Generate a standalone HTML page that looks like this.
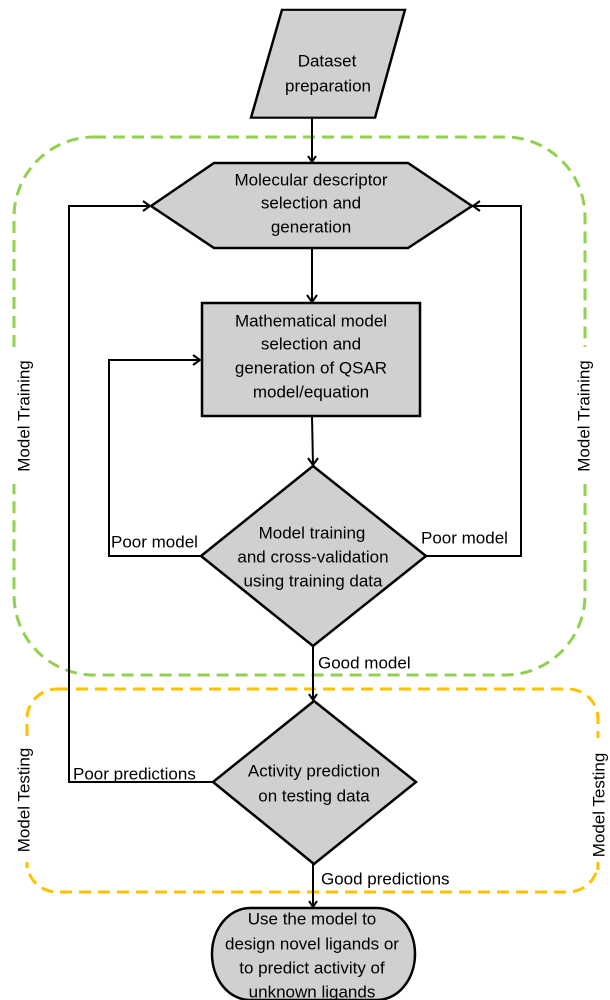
<!DOCTYPE html>
<html><head><meta charset="utf-8"><style>html,body{margin:0;padding:0;background:#fff}svg{display:block}</style></head>
<body>
<svg width="610" height="1000" viewBox="0 0 610 1000" xmlns="http://www.w3.org/2000/svg" font-family="Liberation Sans, sans-serif" font-size="17">
<!-- dashed groups -->
<path d="M94 137 H505 A80 80 0 0 1 585 217 V347 M585 484 V595 A80 80 0 0 1 505 675 H94 A80 80 0 0 1 14 595 V484 M14 347 V217 A80 80 0 0 1 94 137" fill="none" stroke="#92d050" stroke-width="3" stroke-dasharray="12,7"/>
<path d="M57 689 H568 A30 30 0 0 1 598 719 V738 M598 870 V862 A30 30 0 0 1 568 892 H57 A30 30 0 0 1 27 862 V868 M27 736 V719 A30 30 0 0 1 57 689" fill="none" stroke="#ffc000" stroke-width="3" stroke-dasharray="12,7"/>
<text transform="translate(24,416) rotate(-90)" text-anchor="middle" dominant-baseline="central">Model Training</text>
<text transform="translate(584,416) rotate(-90)" text-anchor="middle" dominant-baseline="central">Model Training</text>
<text transform="translate(24,800) rotate(-90)" text-anchor="middle" dominant-baseline="central">Model Testing</text>
<text transform="translate(599,805) rotate(-90)" text-anchor="middle" dominant-baseline="central">Model Testing</text>
<!-- connectors -->
<g fill="none" stroke="#000" stroke-width="2">
<path d="M312 116 V162 M308 156 L312 162 L316 156"/>
<path d="M312 248 V302 M307 295 L312 302 L317 295"/>
<path d="M312 416 L313 465 M308 458 L313 465 L318 458"/>
<path d="M313 646 V700 M309 694 L313 700 L317 694"/>
<path d="M313 864 V907 M309 901 L313 907 L317 901"/>
<path d="M201 556 H109 V360 H200 M193 355 L200 360 L193 365"/>
<path d="M426 556 H521 V206 H473 M480 201 L473 206 L480 211"/>
<path d="M213 782 H69 V206 H150 M143 201 L150 206 L143 211"/>
</g>
<!-- shapes -->
<g fill="#d0d0d0" stroke="#000" stroke-width="2.5">
<polygon points="282,10 405,10 375,137 251,137" transform="translate(0,-0) scale(1,0.85) translate(0,1.5)"/>
<polygon points="151,206 214,163 408,163 472,206 408,248 214,248"/>
<rect x="202" y="303" width="218" height="113"/>
<polygon points="313,466 426,556 313,646 201,556"/>
<polygon points="314,701 416,782 314,864 213,782"/>
<path d="M250 908 H377 A38 46 0 0 1 377 1000 H250 A38 46 0 0 1 250 908 Z"/>
</g>
<g text-anchor="middle" dominant-baseline="central">
<text x="327" y="61">Dataset</text>
<text x="328" y="86">preparation</text>
<text x="311" y="180">Molecular descriptor</text>
<text x="311" y="203">selection and</text>
<text x="311" y="227">generation</text>
<text x="311" y="321">Mathematical model</text>
<text x="311" y="344">selection and</text>
<text x="311" y="368">generation of QSAR</text>
<text x="311" y="392">model/equation</text>
<text x="312" y="533">Model training</text>
<text x="313" y="557">and cross-validation</text>
<text x="313" y="581">using training data</text>
<text x="314" y="771">Activity prediction</text>
<text x="314" y="796">on testing data</text>
<text x="312" y="919">Use the model to</text>
<text x="312" y="944">design novel ligands or</text>
<text x="312" y="968">to predict activity of</text>
<text x="312" y="992">unknown ligands</text>
</g>
<g dominant-baseline="central">
<text x="111" y="542">Poor model</text>
<text x="421" y="538">Poor model</text>
<text x="318" y="663">Good model</text>
<text x="73" y="774">Poor predictions</text>
<text x="321" y="879">Good predictions</text>
</g>
</svg>
</body></html>
